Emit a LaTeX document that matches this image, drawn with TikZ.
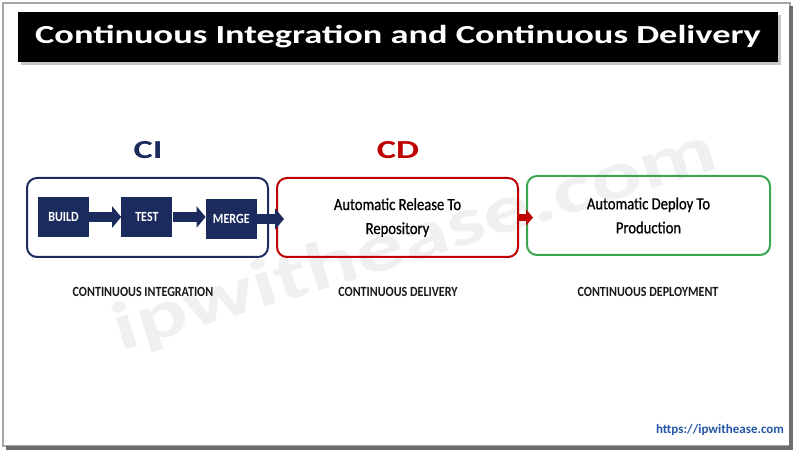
\documentclass[tikz,border=0pt]{standalone}
\usepackage{fontspec}
\setmainfont{Carlito}
\newfontfamily\widefont[FakeStretch=1.4]{Carlito}
\newfontfamily\narrowfont[FakeStretch=0.86]{Carlito}
\newfontfamily\stagefont[FakeStretch=0.86,FakeBold=0.7]{Carlito}
\usepackage{tikz}
\definecolor{ciNavy}{HTML}{1C2B5E}
\definecolor{cdRed}{HTML}{C00000}
\definecolor{cdGreen}{HTML}{3CA550}
\definecolor{ciLink}{HTML}{2357A6}
\definecolor{ciEdge}{HTML}{6E6E6E}
\usetikzlibrary{positioning,arrows.meta}

\begin{document}
\begin{tikzpicture}[x=1pt,y=-1pt,node distance=32pt,
  stage/.style={draw,line width=2pt,rounded corners=10pt,minimum width=241pt,minimum height=79pt,align=center,inner sep=0pt,text=black,font=\stagefont\fontsize{17}{24}\selectfont},
  stepbox/.style={fill=ciNavy,text=white,minimum width=51pt,minimum height=40pt,inner sep=0pt,font=\narrowfont\bfseries\fontsize{14}{16}\selectfont},
  caption/.style={text=black!90,font=\narrowfont\bfseries\fontsize{14}{16}\selectfont},
  flow/.style={ciNavy,line width=10pt,-{Triangle[length=9pt,width=21pt]}}]
\useasboundingbox (0,0) rectangle (800,454);
\fill[white] (0,0) rectangle (800,454);
% watermark
\node[rotate=17,text=black!6,font=\widefont\bfseries\fontsize{68}{68}\selectfont] (mark) at (415,242) {ipwithease.com};
% frame
\draw[black!35,line width=1.5pt] (3,3) rectangle (790,446);
\draw[ciEdge,line width=4pt] (791,6) -- (791,448) -- (6,448);
% title
\fill[black!22] (21,15) rectangle (781,65);
\node[fill=black,text=white,minimum width=760pt,minimum height=50pt,inner sep=0pt,font=\widefont\bfseries\fontsize{26}{26}\selectfont] (title) at (398,37) {Continuous Integration and Continuous Delivery};
\node[text=ciNavy,font=\widefont\bfseries\fontsize{26}{26}\selectfont] (cilabel) at (148,150) {CI};
\node[text=cdRed,font=\widefont\bfseries\fontsize{26}{26}\selectfont] (cdlabel) at (398,150) {CD};
% stages
\node[stage,draw=ciNavy] (ci) at (147.5,217.5) {};
\node[stage,draw=cdRed] (cd) at (397.5,217.5) {Automatic Release To\\Repository};
\node[stage,draw=cdGreen,minimum width=243pt] (cdep) at (648.5,215.5) {Automatic Deploy To\\Production};
\node[stepbox] (build) at (63.5,217) {BUILD};
\node[stepbox,right=of build] (test) {TEST};
\node[stepbox,right=33pt of test,yshift=-2pt] (merge) {MERGE};
\draw[flow] (build) -- (test);\draw[flow] (test.east) -- (test.east -| merge.west);
\draw[flow] (merge.east) -- ([xshift=8pt]merge.east -| cd.west);
\draw[flow,cdRed,line width=7pt,-{Triangle[length=7pt,width=16pt]}] (cd.east) -- ([xshift=7pt]cd.east -| cdep.west);
% captions
\node[caption] (ciname) at (143,292) {CONTINUOUS INTEGRATION};
\node[caption] (cdname) at (398,292) {CONTINUOUS DELIVERY};
\node[caption] (cdepname) at (648,292) {CONTINUOUS DEPLOYMENT};
\node[text=ciLink,font=\bfseries\fontsize{13}{13}\selectfont] (url) at (720,430) {https://ipwithease.com};
\end{tikzpicture}
\end{document}
